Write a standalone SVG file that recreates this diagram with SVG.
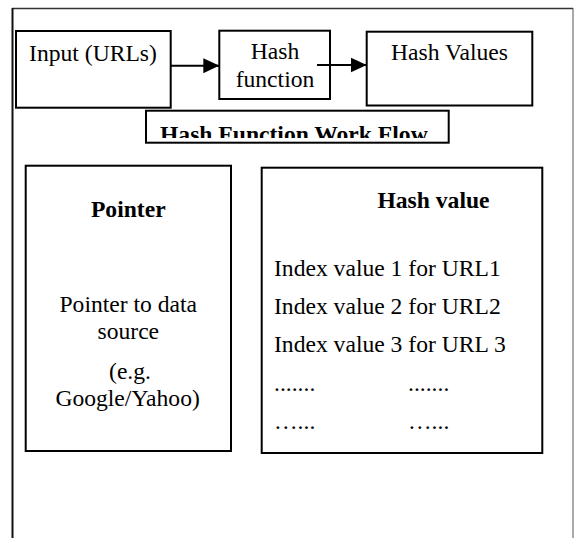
<svg xmlns="http://www.w3.org/2000/svg" width="574" height="538" viewBox="0 0 574 538">
  <style>
    .box { fill: #ffffff; stroke: #000000; stroke-width: 2; }
    .txt { font-family: "Liberation Serif", "Times New Roman", serif; font-size: 23.6px; fill: #000000; }
    .bold { font-weight: bold; }
    .mid { text-anchor: middle; }
    .link { fill: none; stroke: #000000; stroke-width: 2; }
  </style>
  <defs>
    <marker id="arrowhead" viewBox="0 0 16 16" refX="16" refY="8" markerWidth="16" markerHeight="16" markerUnits="userSpaceOnUse" orient="auto">
      <path d="M0,0.5 L16,8 L0,15.5 Z" fill="#000000"/>
    </marker>
    <clipPath id="captionClip">
      <rect x="147" y="111.5" width="301" height="26.5"/>
    </clipPath>
  </defs>

  <rect width="574" height="538" fill="#ffffff"/>

  <!-- page frame (open at the bottom) -->
  <g id="frame">
    <line x1="12" y1="8.5" x2="573" y2="8.5" stroke="#333333" stroke-width="1.5"/>
    <line x1="12.5" y1="8" x2="12.5" y2="538" stroke="#111111" stroke-width="2"/>
    <line x1="573" y1="8" x2="573" y2="538" stroke="#555555" stroke-width="1"/>
  </g>

  <!-- workflow row -->
  <g id="input">
    <rect class="box" x="16" y="31" width="154.7" height="76.7"/>
    <text class="txt mid" x="93" y="60.5">Input (URLs)</text>
  </g>

  <g id="hash-function">
    <rect class="box" x="219.3" y="30.7" width="110.7" height="68.3"/>
    <text class="txt mid" x="275" y="59.3">Hash</text>
    <text class="txt mid" x="275" y="86.7">function</text>
  </g>

  <g id="hash-values">
    <rect class="box" x="366.7" y="31.7" width="165.6" height="73.8"/>
    <text class="txt mid" x="449.5" y="60.3">Hash Values</text>
  </g>

  <g id="connectors">
    <line class="link" x1="170.7" y1="65.7" x2="219.3" y2="65.7" marker-end="url(#arrowhead)"/>
    <line class="link" x1="317" y1="65" x2="366.7" y2="65" marker-end="url(#arrowhead)"/>
  </g>

  <!-- caption box, text cut off by its frame -->
  <g id="caption">
    <rect class="box" x="146" y="110.7" width="302.7" height="32"/>
    <text class="txt bold" x="160" y="141.5" clip-path="url(#captionClip)">Hash Function Work Flow</text>
  </g>

  <!-- lower panels -->
  <g id="pointer">
    <rect class="box" x="25.7" y="165.7" width="205.3" height="285.3"/>
    <text class="txt bold mid" x="128.3" y="216.7">Pointer</text>
    <text class="txt mid" x="128.3" y="311.7">Pointer to data</text>
    <text class="txt mid" x="128.3" y="339">source</text>
    <text class="txt mid" x="130" y="379">(e.g.</text>
    <text class="txt mid" x="127.6" y="406">Google/Yahoo)</text>
  </g>

  <g id="hash-value">
    <rect class="box" x="261.7" y="167.7" width="280.6" height="285.3"/>
    <text class="txt bold mid" x="433.5" y="208.3">Hash value</text>
    <text class="txt" x="274" y="275.5">Index value 1 for URL1</text>
    <text class="txt" x="274" y="314">Index value 2 for URL2</text>
    <text class="txt" x="274" y="352.3">Index value 3 for URL 3</text>
    <text class="txt" x="274" y="390.5">.......</text>
    <text class="txt" x="408" y="390.5">.......</text>
    <text class="txt" x="274" y="428.5">…...</text>
    <text class="txt" x="408" y="428.5">…...</text>
  </g>
</svg>
